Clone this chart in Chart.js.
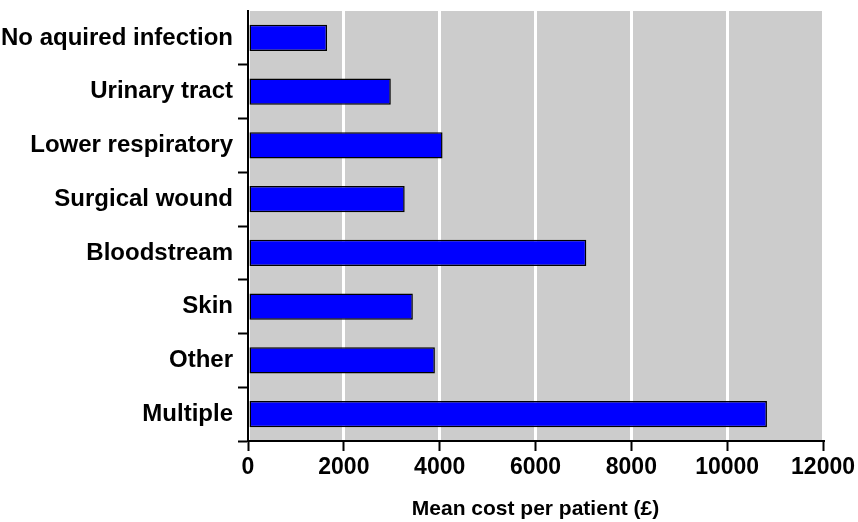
<!DOCTYPE html>
<html>
<head>
<meta charset="utf-8">
<script src="https://cdn.jsdelivr.net/npm/chart.js@4/dist/chart.umd.min.js"></script>
<style>
  html, body { margin: 0; padding: 0; background: #ffffff; }
  #wrap { width: 858px; height: 522px; }
</style>
</head>
<body>
<div id="wrap"><canvas id="c" width="858" height="522"></canvas></div>
<script>
// Infection categories and mean cost per patient (£)
const categories = [
  'No aquired infection',
  'Urinary tract',
  'Lower respiratory',
  'Surgical wound',
  'Bloodstream',
  'Skin',
  'Other',
  'Multiple'
];
const meanCost = [1650, 2980, 4060, 3270, 7060, 3440, 3900, 10830];
const xTicks = [0, 2000, 4000, 6000, 8000, 10000, 12000];
const axisTitle = 'Mean cost per patient (£)';

// Grey panel behind the plotting area
const panelBackground = {
  id: 'panelBackground',
  beforeDraw(chart) {
    const { ctx, chartArea } = chart;
    ctx.save();
    ctx.fillStyle = '#cccccc';
    ctx.fillRect(chartArea.left, chartArea.top,
                 chartArea.right - chartArea.left, chartArea.bottom - chartArea.top);
    ctx.restore();
  }
};

const fontFamily = '"Liberation Sans", Arial, sans-serif';

new Chart(document.getElementById('c'), {
  type: 'bar',
  data: {
    labels: categories,
    datasets: [{
      data: meanCost,
      backgroundColor: '#0000ff',
      borderColor: '#000000',
      borderWidth: 1.5,
      borderSkipped: false,
      categoryPercentage: 1,
      barPercentage: 0.49
    }]
  },
  options: {
    indexAxis: 'y',
    responsive: false,
    animation: false,
    devicePixelRatio: 1,
    layout: { padding: { top: 11, right: 34, bottom: 0, left: 0 } },
    plugins: {
      legend: { display: false },
      tooltip: { enabled: false }
    },
    scales: {
      x: {
        min: 0,
        max: 12000,
        afterBuildTicks(scale) {
          scale.ticks = xTicks.map(v => ({ value: v }));
        },
        afterFit(scale) { scale.height = 81; },
        grid: {
          color: '#ffffff',
          lineWidth: 3,
          tickColor: '#000000',
          tickWidth: 2,
          tickLength: 10,
          drawOnChartArea: true
        },
        border: { display: true, color: '#000000', width: 2 },
        ticks: {
          color: '#000000',
          padding: 3,
          maxRotation: 0,
          font: { family: fontFamily, size: 23, weight: 'bold' },
          callback: v => String(v)
        },
        title: {
          display: true,
          text: axisTitle,
          color: '#000000',
          font: { family: fontFamily, size: 21, weight: 'bold' },
          padding: { top: 4, bottom: 0 }
        }
      },
      y: {
        afterFit(scale) {
          scale.width = 248;
          scale.paddingTop = 0;
          scale.paddingBottom = 0;
        },
        grid: {
          offset: true,
          drawOnChartArea: false,
          color: '#000000',
          // no tick mark on the top edge of the panel
          tickColor: c => (c.index === 0 ? 'rgba(0,0,0,0)' : '#000000'),
          tickWidth: 2,
          tickLength: 10
        },
        border: { display: true, color: '#000000', width: 2 },
        ticks: {
          color: '#000000',
          padding: 5,
          font: { family: fontFamily, size: 24, weight: 'bold' }
        }
      }
    }
  },
  plugins: [panelBackground]
});
</script>
</body>
</html>
